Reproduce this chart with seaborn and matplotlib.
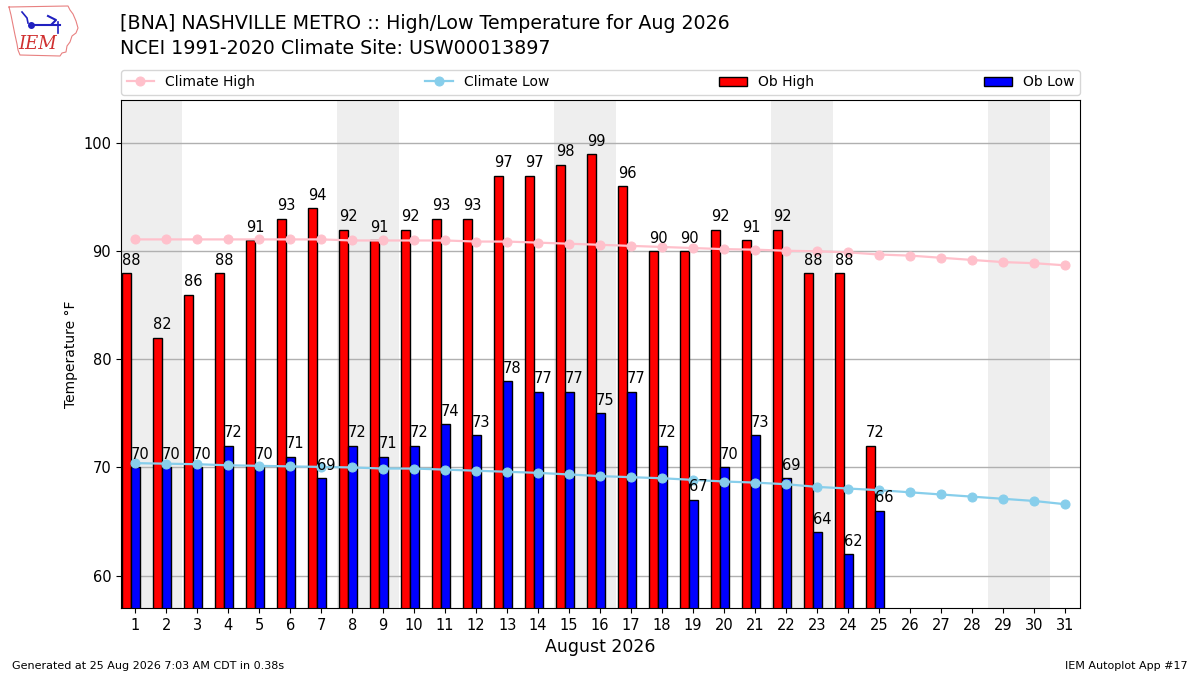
import numpy as np
import pandas as pd
import matplotlib
matplotlib.use("Agg")
import matplotlib.pyplot as plt
from matplotlib.lines import Line2D
import seaborn as sns

days = list(range(1, 32))
obs_days = list(range(1, 26))
ob_high = [88, 82, 86, 88, 91, 93, 94, 92, 91, 92, 93, 93, 97, 97, 98, 99, 96, 90, 90, 92, 91, 92, 88, 88, 72]
ob_low = [70, 70, 70, 72, 70, 71, 69, 72, 71, 72, 74, 73, 78, 77, 77, 75, 77, 72, 67, 70, 73, 69, 64, 62, 66]
clim_high = [91.1, 91.1, 91.1, 91.1, 91.1, 91.1, 91.1, 91.0, 91.0, 91.0, 91.0, 90.9, 90.9, 90.8, 90.7,
             90.6, 90.5, 90.4, 90.3, 90.2, 90.15, 90.05, 90.0, 89.9, 89.7, 89.6, 89.4, 89.2, 89.0, 88.9, 88.7]
clim_low = [70.4, 70.35, 70.3, 70.2, 70.15, 70.1, 70.05, 70.0, 69.9, 69.9, 69.8, 69.7, 69.6, 69.5, 69.35,
            69.2, 69.1, 69.0, 68.85, 68.7, 68.6, 68.45, 68.2, 68.05, 67.9, 67.7, 67.5, 67.3, 67.1, 66.9, 66.6]
weekend_starts = [1, 8, 15, 22, 29]
yticks = [60, 70, 80, 90, 100]

fig = plt.figure(figsize=(12, 6.75), dpi=100)
ax = fig.add_axes([0.1008, 0.0993, 0.7992, 0.7526])

for d in weekend_starts:
    ax.axvspan(d - 0.5, d + 1.5, color="#EEEEEE", zorder=0, lw=0)

od = np.array(obs_days, dtype=float)
hi_df = pd.DataFrame({"x": od - 0.28, "y": ob_high})
lo_df = pd.DataFrame({"x": od + 0.02, "y": ob_low})
sns.barplot(data=hi_df, x="x", y="y", native_scale=True, width=0.3, color="#FF0000",
            saturation=1, edgecolor="black", linewidth=1, errorbar=None, ax=ax,
            label="Ob High", zorder=2)
sns.barplot(data=lo_df, x="x", y="y", native_scale=True, width=0.3, color="#0000FF",
            saturation=1, edgecolor="black", linewidth=1, errorbar=None, ax=ax,
            label="Ob Low", zorder=2)

clim_df = pd.DataFrame({"day": days, "high": clim_high, "low": clim_low})
sns.lineplot(data=clim_df, x="day", y="high", color="pink", marker="o", markersize=6.5,
             markeredgecolor="pink", linewidth=1.6, ax=ax, label="Climate High", zorder=4)
sns.lineplot(data=clim_df, x="day", y="low", color="skyblue", marker="o", markersize=6.5,
             markeredgecolor="skyblue", linewidth=1.6, ax=ax, label="Climate Low", zorder=4)

for d, h, l in zip(obs_days, ob_high, ob_low):
    ax.text(d - 0.43, h + 0.5, f"{h}", ha="left", va="bottom", fontsize=10.5, zorder=5)
    ax.text(d - 0.13, l + 0.5, f"{l}", ha="left", va="bottom", fontsize=10.5, zorder=5)

ax.set_xlim(0.54, 31.48)
ax.set_ylim(57, 104)
ax.set_xticks(days)
ax.set_xticklabels([str(d) for d in days], fontsize=10.5)
ax.set_yticks(yticks)
ax.set_yticklabels([str(v) for v in yticks], fontsize=10.5)
ax.yaxis.grid(True, color="#b0b0b0", lw=1, zorder=1)
ax.set_axisbelow(True)
ax.set_xlabel("August 2026", fontsize=12.5)
ax.set_ylabel("Temperature °F", fontsize=10)
for s in ax.spines.values():
    s.set_visible(True)
    s.set_color("black")

handles, labels = ax.get_legend_handles_labels()
order = ["Climate High", "Climate Low", "Ob High", "Ob Low"]
hmap = dict(zip(labels, handles))
ax.legend([hmap[k] for k in order], order, loc="lower left", bbox_to_anchor=(0, 1.01, 1, 0.05),
          ncol=4, mode="expand", fontsize=10, borderaxespad=0, frameon=True)

fig.text(0.1, 0.965, "[BNA] NASHVILLE METRO :: High/Low Temperature for Aug 2026", fontsize=13.7,
         ha="left", va="center")
fig.text(0.1, 0.928, "NCEI 1991-2020 Climate Site: USW00013897", fontsize=13.7, ha="left", va="center")

# logo approximation
W, H = 1200.0, 675.0
outline = [(9, 7), (68, 6), (70, 10), (73, 14), (76, 21), (78, 28), (76, 33), (72, 36), (70, 42),
           (67, 46), (66, 52), (62, 53), (60, 56), (20, 55), (18, 50), (17, 44), (15, 35), (13, 25),
           (11, 15), (9, 7)]
fig.add_artist(Line2D([p[0] / W for p in outline], [1 - p[1] / H for p in outline],
                      color="#e88080", lw=0.8, transform=fig.transFigure))
fig.add_artist(Line2D([31 / W, 60 / W], [1 - 25 / H, 1 - 25 / H], color="#2020c0", lw=1.5,
                      transform=fig.transFigure))
fig.add_artist(Line2D([31 / W], [1 - 25 / H], color="#2020c0", marker="o", markersize=4,
                      transform=fig.transFigure))
fig.add_artist(Line2D([48 / W, 56 / W, 52 / W], [1 - 16 / H, 1 - 20 / H, 1 - 24 / H], color="#2020c0",
                      lw=1.5, transform=fig.transFigure))
fig.add_artist(Line2D([58 / W, 58 / W], [1 - 22 / H, 1 - 33 / H], color="#2020c0", lw=1.2,
                      transform=fig.transFigure))
fig.add_artist(Line2D([22 / W, 27 / W, 28 / W], [1 - 12 / H, 1 - 18 / H, 1 - 23 / H], color="#2020c0",
                      lw=1.2, transform=fig.transFigure))
fig.text(38 / W, 1 - 44 / H, "IEM", fontsize=13, color="#d03030", family="serif", style="italic",
         ha="center", va="center")

fig.text(0.01, 0.014, "Generated at 25 Aug 2026 7:03 AM CDT in 0.38s", fontsize=8, ha="left", va="center")
fig.text(0.99, 0.014, "IEM Autoplot App #17", fontsize=8, ha="right", va="center")

fig.savefig("out.png", dpi=100)
